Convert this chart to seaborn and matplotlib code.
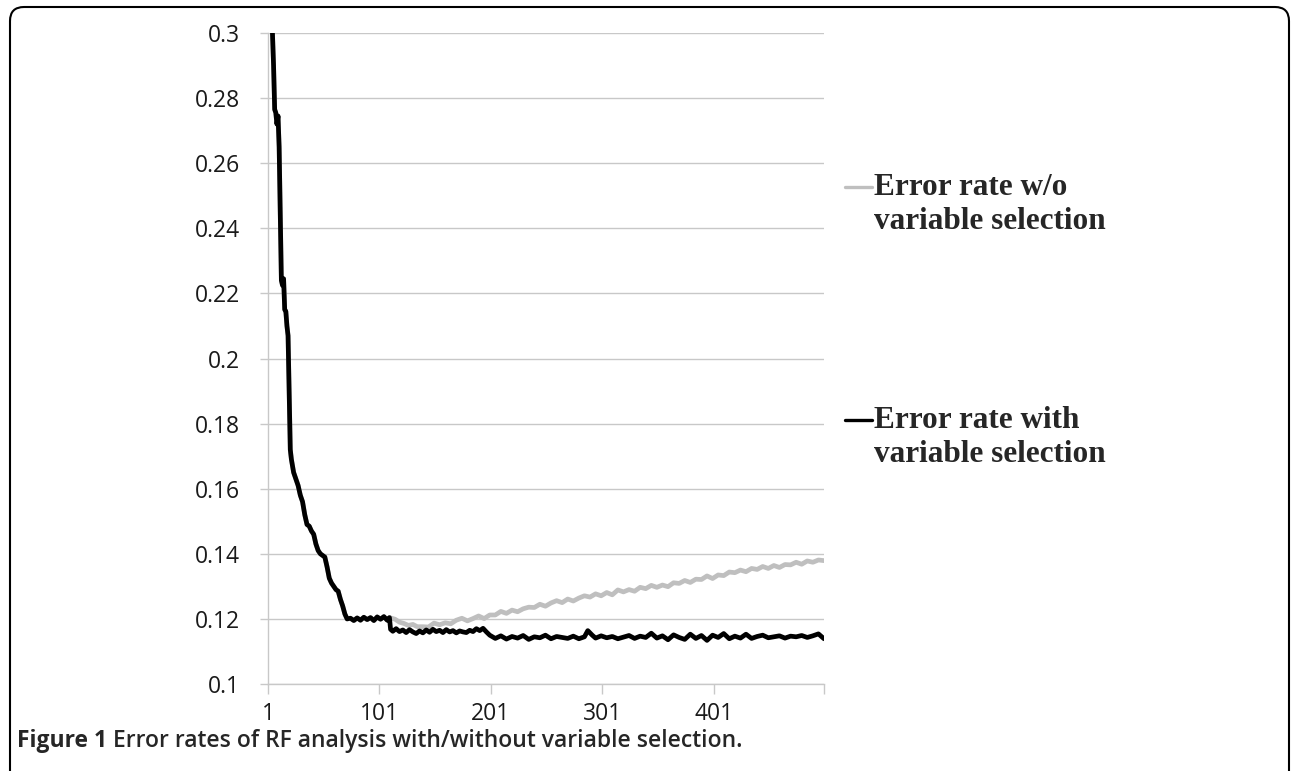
import matplotlib.pyplot as plt
import seaborn as sns
import pandas as pd
from matplotlib.patches import FancyBboxPatch
from matplotlib.transforms import IdentityTransform

# number of trees / error rate
# both runs follow the same path up to ~110 trees
early_x = [1, 3, 5, 6, 7, 8, 9, 10, 11, 12, 13, 14, 15, 16, 17, 18, 19, 20, 21, 22,
           24, 26, 28, 30, 32, 34, 36, 38, 40, 42, 44, 46, 48, 50, 52, 54, 56, 58, 60,
           62, 64, 66, 68, 70, 72, 75, 78, 81, 84, 87, 90, 93, 96, 99, 102, 105, 108, 110]
early_y = [0.335, 0.315, 0.300, 0.290, 0.2765, 0.2755, 0.272, 0.2745, 0.265, 0.245,
           0.224, 0.2225, 0.2245, 0.215, 0.2145, 0.210, 0.207, 0.190, 0.172, 0.169,
           0.165, 0.163, 0.161, 0.158, 0.156, 0.152, 0.149, 0.1485, 0.147, 0.146,
           0.143, 0.141, 0.140, 0.1395, 0.139, 0.136, 0.1325, 0.131, 0.130, 0.129,
           0.1285, 0.126, 0.124, 0.1215, 0.120, 0.1202, 0.1195, 0.1203, 0.1196, 0.1205,
           0.1198, 0.1204, 0.1195, 0.1206, 0.1199, 0.1207, 0.1196, 0.1204]

# with variable selection (black)
sel_x = [111, 113, 116, 119, 122, 125, 128, 131, 134, 137, 140, 143, 146, 149, 152,
         155, 158, 161, 164, 167, 170, 173, 176, 179, 182, 185, 188, 191, 194, 197,
         200, 205, 210, 215, 220, 225, 230, 235, 240, 245, 250, 255, 260, 265, 270,
         275, 280, 285, 288, 292, 295, 300, 305, 310, 315, 320, 325, 330, 335, 340,
         345, 350, 355, 360, 365, 370, 375, 380, 385, 390, 395, 400, 405, 410, 415,
         420, 425, 430, 435, 440, 445, 450, 455, 460, 465, 470, 475, 480, 485, 490,
         495, 500]
sel_y = [0.1168, 0.1162, 0.1170, 0.1161, 0.1166, 0.1158, 0.1167, 0.1160, 0.1155, 0.1163,
         0.1157, 0.1166, 0.1159, 0.1168, 0.1161, 0.1165, 0.1158, 0.1167, 0.1160, 0.1164,
         0.1157, 0.1163, 0.1160, 0.1158, 0.1165, 0.1161, 0.1170, 0.1164, 0.1171, 0.1160,
         0.1150, 0.1140, 0.1148, 0.1138, 0.1146, 0.1141, 0.1149, 0.1137, 0.1145, 0.1142,
         0.1150, 0.1139, 0.1146, 0.1143, 0.1140, 0.1147, 0.1139, 0.1145, 0.1164, 0.1150,
         0.1141, 0.1148, 0.1142, 0.1146, 0.1139, 0.1144, 0.1149, 0.1140, 0.1147, 0.1143,
         0.1156, 0.1141, 0.1148, 0.1136, 0.1151, 0.1143, 0.1137, 0.1153, 0.1140, 0.1149,
         0.1134, 0.1150, 0.1143, 0.1155, 0.1139, 0.1147, 0.1141, 0.1153, 0.1140, 0.1146,
         0.1150, 0.1142, 0.1145, 0.1148, 0.1141, 0.1147, 0.1145, 0.1149, 0.1143, 0.1148,
         0.1154, 0.1139]

# without variable selection (grey)
nosel_x = [111, 115, 119, 123, 127, 131, 135, 140, 145, 150, 155, 160, 165, 170, 175,
           180, 185, 190, 195, 200, 205, 210, 215, 220, 225, 230, 235, 240, 245, 250,
           255, 260, 265, 270, 275, 280, 285, 290, 295, 300, 305, 310, 315, 320, 325,
           330, 335, 340, 345, 350, 355, 360, 365, 370, 375, 380, 385, 390, 395, 400,
           405, 410, 415, 420, 425, 430, 435, 440, 445, 450, 455, 460, 465, 470, 475,
           480, 485, 490, 495, 500]
nosel_y = [0.1203, 0.1199, 0.1190, 0.1186, 0.1180, 0.1183, 0.1176, 0.1176, 0.1175, 0.1187,
           0.1182, 0.1188, 0.1185, 0.1196, 0.1202, 0.1194, 0.1201, 0.1209, 0.1201, 0.1212,
           0.1212, 0.1223, 0.1217, 0.1227, 0.1222, 0.1231, 0.1236, 0.1235, 0.1245, 0.1239,
           0.1249, 0.1256, 0.1250, 0.1261, 0.1255, 0.1264, 0.1271, 0.1267, 0.1277, 0.1271,
           0.1281, 0.1274, 0.1289, 0.1283, 0.1290, 0.1285, 0.1297, 0.1293, 0.1303, 0.1297,
           0.1304, 0.1299, 0.1311, 0.1309, 0.1318, 0.1312, 0.1322, 0.1321, 0.1332, 0.1324,
           0.1335, 0.1333, 0.1344, 0.1342, 0.1350, 0.1345, 0.1355, 0.1352, 0.1361, 0.1355,
           0.1364, 0.1358, 0.1367, 0.1366, 0.1374, 0.1368, 0.1378, 0.1374, 0.1381, 0.1379]

x_ticks = [1, 101, 201, 301, 401, 500]
x_labels = ['1', '101', '201', '301', '401', '']
y_ticks = [0.1, 0.12, 0.14, 0.16, 0.18, 0.2, 0.22, 0.24, 0.26, 0.28, 0.3]

legend_labels = [['Error rate w/o', 'variable selection'],
                 ['Error rate with', 'variable selection']]
caption_bold = 'Figure 1'
caption_rest = ' Error rates of RF analysis with/without variable selection.'

grey = '#bfbfbf'
black = '#000000'

df_nosel = pd.DataFrame({'trees': early_x + nosel_x, 'error': early_y + nosel_y})
df_sel = pd.DataFrame({'trees': early_x + sel_x, 'error': early_y + sel_y})

sns.set_style('white')
plt.rcParams['font.family'] = ['Open Sans', 'DejaVu Sans']

W, H = 1292, 771
fig = plt.figure(figsize=(W / 100, H / 100), dpi=100)
ax = fig.add_axes([268 / W, 1 - 684 / H, (824 - 268) / W, (684 - 33) / H])

sns.lineplot(data=df_nosel, x='trees', y='error', color=grey, lw=3.4,
             sort=False, estimator=None, ax=ax)
sns.lineplot(data=df_sel, x='trees', y='error', color=black, lw=3.4,
             sort=False, estimator=None, ax=ax)

ax.set_xlim(1, 500)
ax.set_ylim(0.1, 0.3)
ax.set_xticks(x_ticks)
ax.set_xticklabels(x_labels)
ax.set_yticks(y_ticks)
ax.set_yticklabels([f'{v:g}' for v in y_ticks])
ax.set_xlabel('')
ax.set_ylabel('')
ax.grid(axis='y', color='#c8c8c8', lw=1)
ax.set_axisbelow(True)
for s in ['top', 'right']:
    ax.spines[s].set_visible(False)
for s in ['left', 'bottom']:
    ax.spines[s].set_color('#c8c8c8')
    ax.spines[s].set_linewidth(1)
ax.tick_params(axis='y', length=6, width=1, color='#c8c8c8', pad=14,
               labelsize=16.5, labelcolor='#1a1a1a', left=True)
ax.tick_params(axis='x', length=7, width=1, color='#c8c8c8', pad=6,
               labelsize=16.5, labelcolor='#1a1a1a', bottom=True)

# legend drawn to the right, handle aligned with the first line
tr = IdentityTransform()
for i, (lab, col) in enumerate(zip(legend_labels, [grey, black])):
    base = [195, 428][i]
    fig.add_artist(plt.Line2D([845, 872], [H - base + 8, H - base + 8], color=col,
                              lw=2.4, transform=tr))
    for j, line in enumerate(lab):
        fig.text(874 / W, 1 - (base + 34 * j) / H, line, ha='left', va='baseline',
                 fontsize=22.5, fontweight='bold', family='Liberation Serif')

# caption
t1 = fig.text(17 / W, 1 - 747 / H, caption_bold, ha='left', va='baseline',
              fontsize=16.5, fontweight='bold')
fig.canvas.draw()
bb = t1.get_window_extent()
fig.text(bb.x1 / W, 1 - 747 / H, caption_rest, ha='left', va='baseline',
         fontsize=16.5, fontweight='semibold')

# rounded frame around the figure
fig.add_artist(FancyBboxPatch((10, -20), 1279, H - 7 + 20,
                              boxstyle='round,pad=0,rounding_size=14',
                              fill=False, ec='black', lw=1.5, transform=tr))

fig.savefig('out.png', dpi=100)
